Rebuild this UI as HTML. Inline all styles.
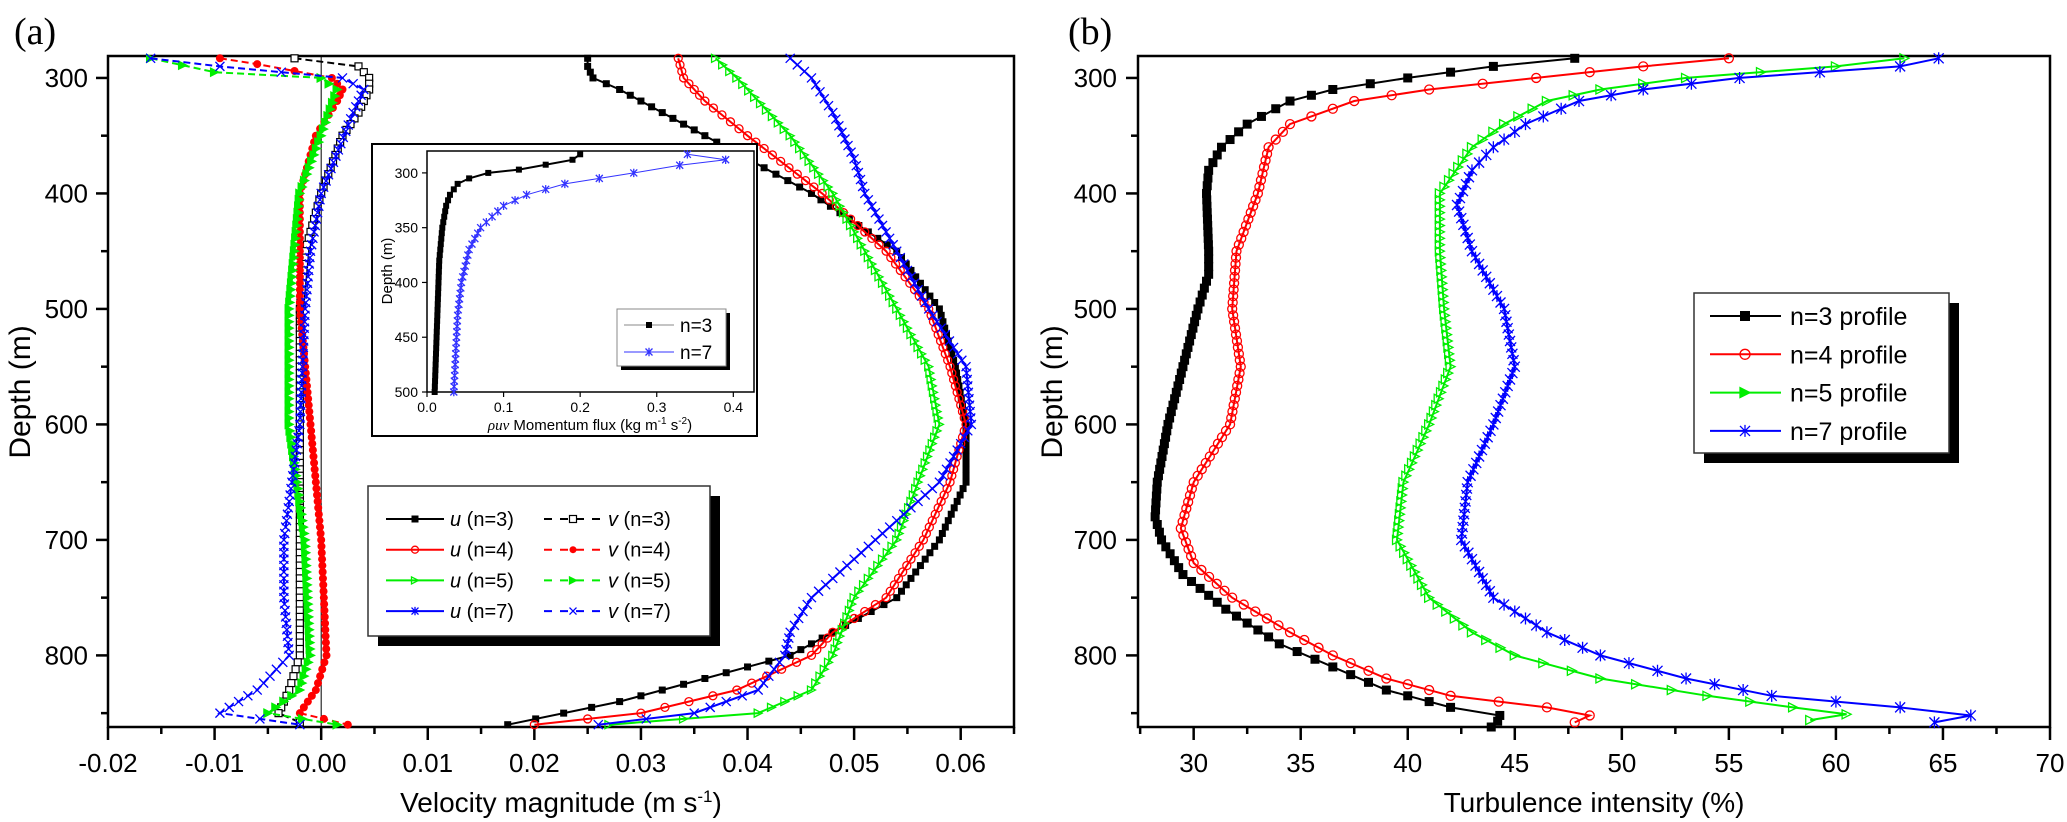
<!DOCTYPE html>
<html><head><meta charset="utf-8">
<style>
html,body{margin:0;padding:0;background:#fff;}
svg{display:block;font-family:"Liberation Sans",Arial,sans-serif;}
</style></head>
<body>
<svg id="fig" width="2067" height="822" viewBox="0 0 2067 822" xmlns="http://www.w3.org/2000/svg">
<text x="14" y="44" font-family="Liberation Serif,serif" font-size="38">(a)</text>
<text x="1068" y="44" font-family="Liberation Serif,serif" font-size="38">(b)</text>
</svg>
<script>
// ---------- data ----------
const depthTicks=[300,400,500,600,700,800];
const velTicks=[-0.02,-0.01,0.00,0.01,0.02,0.03,0.04,0.05,0.06];
const velTickLabels=["-0.02","-0.01","0.00","0.01","0.02","0.03","0.04","0.05","0.06"];
const tiTicks=[30,35,40,45,50,55,60,65,70];
const insetDepthTicks=[300,350,400,450,500];
const insetXTicks=[0,0.1,0.2,0.3,0.4];
const insetXTickLabels=["0.0","0.1","0.2","0.3","0.4"];

const u3D=[283,290,300,310,330,350,400,450,500,550,600,650,700,750,780,800,820,840,860];
const u3V=[0.025,0.025,0.0255,0.028,0.032,0.036,0.046,0.054,0.058,0.0595,0.0605,0.0605,0.058,0.054,0.048,0.044,0.036,0.028,0.0175];
const u4D=[283,300,320,350,400,450,500,550,600,650,700,750,780,800,830,850,860];
const u4V=[0.0335,0.034,0.036,0.040,0.047,0.053,0.057,0.059,0.0605,0.059,0.0565,0.053,0.048,0.046,0.039,0.030,0.020];
const u5D=[283,300,350,400,450,500,550,600,650,700,750,800,830,850,860];
const u5V=[0.037,0.039,0.044,0.048,0.051,0.054,0.057,0.058,0.056,0.054,0.050,0.048,0.046,0.041,0.027];
const u7D=[283,300,330,370,400,450,500,550,600,650,700,750,780,800,830,850,860];
const u7V=[0.044,0.046,0.048,0.050,0.051,0.054,0.057,0.0605,0.061,0.058,0.052,0.046,0.044,0.0435,0.041,0.035,0.026];
const v3D=[283,290,300,310,330,350,400,450,500,600,700,800,830,850,858];
const v3V=[-0.0025,0.0035,0.0045,0.0045,0.0035,0.002,0.0,-0.0015,-0.002,-0.002,-0.002,-0.002,-0.003,-0.004,-0.002];
const v4D=[283,288,300,310,320,350,400,500,600,700,800,830,850,860];
const v4V=[-0.0095,-0.006,0.001,0.002,0.0015,-0.0005,-0.002,-0.002,-0.001,0.0,0.0005,-0.0005,-0.002,0.0025];
const v5D=[283,295,300,310,350,400,500,600,700,800,830,850,860];
const v5V=[-0.016,-0.010,0.0,0.0015,0.0,-0.002,-0.003,-0.003,-0.0015,-0.001,-0.002,-0.005,0.0015];
const v7D=[283,290,300,310,330,400,450,500,600,700,750,800,830,850,860];
const v7V=[-0.016,-0.0095,0.002,0.004,0.003,0.0,-0.001,-0.0015,-0.002,-0.0035,-0.0035,-0.003,-0.006,-0.0095,-0.002];

const t3D=[283,290,300,310,320,340,360,380,400,450,470,500,550,600,650,680,700,730,760,790,810,830,845,852,857,862];
const t3V=[47.8,44,40,36.5,34.5,32.5,31.3,30.7,30.6,30.7,30.7,30.2,29.5,28.8,28.3,28.2,28.5,29.5,31.5,34,36.5,39,42,44.3,44.2,43.9];
const t4D=[283,290,300,310,320,340,360,400,450,500,550,600,650,690,720,750,780,800,820,835,845,852,858];
const t4V=[55,51,46,41,37.5,34.5,33.5,33,32,31.8,32.2,31.7,30,29.4,30,31.8,34.5,36.5,39,42,46.5,48.5,47.8];
const t5D=[283,290,300,310,320,340,360,400,450,500,550,600,650,700,750,780,800,820,835,845,851,856];
const t5V=[63.2,60,53,49,46.5,44.5,43,41.5,41.5,41.7,42,41,39.8,39.5,41,43,45,49,54,58,60.5,58.8];
const t7D=[283,290,300,310,320,340,360,380,410,450,500,550,600,650,700,750,780,800,820,835,845,852,858];
const t7V=[64.8,63,55.5,51,48,45.5,44,43,42.3,43,44.5,45,44,42.8,42.5,44,46.5,49,53,57,63,66.3,64.6];

const f3D=[283,288,297,300,305,310,320,330,350,380,400,500];
const f3V=[0.2,0.19,0.12,0.08,0.055,0.04,0.03,0.025,0.02,0.016,0.015,0.01];
const f7D=[283,288,293,300,310,320,330,350,370,400,430,500];
const f7V=[0.34,0.39,0.33,0.27,0.18,0.13,0.1,0.07,0.055,0.045,0.04,0.035];

// ---------- helpers ----------
const NS="http://www.w3.org/2000/svg";
const svg=document.getElementById('fig');
function mk(tag,attrs,parent){const e=document.createElementNS(NS,tag);for(const k in attrs)e.setAttribute(k,attrs[k]);(parent||svg).appendChild(e);return e;}
function lin(d0,d1,r0,r1){return v=>r0+(v-d0)*(r1-r0)/(d1-d0);}

// axes geometry
const yA=lin(281,862,56,727);
const xA=lin(-0.02,0.065,108,1014);
const yB=lin(281,862,56,727);
const xB=lin(27.4,70,1138,2050);
const yI=lin(280,500,151,392);
const xI=lin(0,0.427,427,754);

function marker(g,type,x,y,s,color){
  let e;
  if(type==='sqF'){e=mk('rect',{x:x-s/2,y:y-s/2,width:s,height:s,fill:color},g);}
  else if(type==='sqO'){e=mk('rect',{x:x-s/2,y:y-s/2,width:s,height:s,fill:'#fff',stroke:color,'stroke-width':1.2},g);}
  else if(type==='ciO'){e=mk('circle',{cx:x,cy:y,r:s/2,fill:'none',stroke:color,'stroke-width':1.3},g);}
  else if(type==='ciF'){e=mk('circle',{cx:x,cy:y,r:s/2,fill:color},g);}
  else if(type==='trO'||type==='trF'){e=mk('polygon',{points:`${x-s/2},${y-s/2} ${x+s/2},${y} ${x-s/2},${y+s/2}`,fill:type==='trF'?color:'none',stroke:color,'stroke-width':1.3},g);}
  else if(type==='x'){const h=s/2;e=mk('path',{d:`M${x-h},${y-h}L${x+h},${y+h}M${x-h},${y+h}L${x+h},${y-h}`,stroke:color,'stroke-width':1.3,fill:'none'},g);}
  else if(type==='ast'){const h=s/2;e=mk('path',{d:`M${x-h},${y-h}L${x+h},${y+h}M${x-h},${y+h}L${x+h},${y-h}M${x},${y-h*1.2}L${x},${y+h*1.2}`,stroke:color,'stroke-width':1.3,fill:'none'},g);}
  
  
}
function series(name,D,V,xs,ys,color,dash,mtype,msize,step,width){
  const g=mk('g',{});
  
  
  const pts=D.map((d,i)=>xs(V[i]).toFixed(1)+','+ys(d).toFixed(1)).join(' ');
  const pl=mk('polyline',{points:pts,fill:'none',stroke:color,'stroke-width':width||2,'stroke-dasharray':dash||'none'},g);
  
  
  // markers along depth
  for(let i=0;i<D.length-1;i++){
    const n=Math.max(1,Math.round((D[i+1]-D[i])/step));
    for(let k=0;k<n;k++){
      const t=k/n;const d=D[i]+t*(D[i+1]-D[i]);const v=V[i]+t*(V[i+1]-V[i]);
      marker(g,mtype,xs(v),ys(d),msize,color);
    }
  }
  marker(g,mtype,xs(V[V.length-1]),ys(D[D.length-1]),msize,color);
}
function txt(x,y,s,size,anchor,name,extra){
  const t=mk('text',Object.assign({x:x,y:y,'font-size':size,'text-anchor':anchor||'middle'},extra||{}));
  t.textContent=s;
  
  
  return t;
}

// ---------- panel a ----------
const ga=mk('g',{});


const frameA=mk('rect',{x:108,y:56,width:906,height:671,fill:'none',stroke:'#000','stroke-width':2.5},ga);


const zl=mk('line',{x1:xA(0),x2:xA(0),y1:56,y2:727,stroke:'#000','stroke-width':1},ga);


depthTicks.forEach(d=>{
  const t=mk('line',{x1:96,x2:108,y1:yA(d),y2:yA(d),stroke:'#000','stroke-width':2.5},ga);
  
  
  txt(88,yA(d)+9,String(d),26,'end','y-tick-label');
});
for(let d=350;d<=850;d+=100){
  const t=mk('line',{x1:101,x2:108,y1:yA(d),y2:yA(d),stroke:'#000','stroke-width':2.5},ga);
  
  
}
velTicks.forEach((v,i)=>{
  const t=mk('line',{x1:xA(v),x2:xA(v),y1:727,y2:740,stroke:'#000','stroke-width':2.5},ga);
  
  
  txt(xA(v),772,velTickLabels[i],26,'middle','x-tick-label');
  const m=mk('line',{x1:xA(v+0.005),x2:xA(v+0.005),y1:727,y2:734,stroke:'#000','stroke-width':2.5},ga);
  
  
});
const ya=txt(0,0,'Depth (m)',30,'middle','y-axis-title',{transform:'translate(30,392) rotate(-90)'});
const xat=txt(561,812,'Velocity magnitude (m s',28,'middle','x-axis-title');
const sup=mk('tspan',{dy:-10,'font-size':17},xat);sup.textContent='-1';
const sup2=mk('tspan',{dy:10},xat);sup2.textContent=')';

series('u-n3',u3D,u3V,xA,yA,'#000',null,'sqF',7,5.5);
series('u-n4',u4D,u4V,xA,yA,'#f00',null,'ciO',8,5.5);
series('u-n5',u5D,u5V,xA,yA,'#0e0',null,'trO',8,5.5);
series('u-n7',u7D,u7V,xA,yA,'#00f',null,'x',9,5.5);
series('v-n3',v3D,v3V,xA,yA,'#000','7,4','sqO',7,5.5);
series('v-n4',v4D,v4V,xA,yA,'#f00','7,4','ciF',8,5.5);
series('v-n5',v5D,v5V,xA,yA,'#0e0','7,4','trF',8,5.5);
series('v-n7',v7D,v7V,xA,yA,'#00f','7,4','x',9,5.5);

// legend a
const la=mk('g',{});


mk('rect',{x:378,y:496,width:342,height:150,fill:'#000'},la);
mk('rect',{x:368,y:486,width:342,height:150,fill:'#fff',stroke:'#333','stroke-width':1.5},la);
const legA=[['u','n=3','#000','sqF','v','sqO'],['u','n=4','#f00','ciO','v','ciF'],['u','n=5','#0e0','trO','v','trF'],['u','n=7','#00f','ast','v','x']];
legA.forEach((r,i)=>{
  const y=519+i*30.7;
  const e1=mk('g',{},la);
  
  
  mk('line',{x1:386,x2:444,y1:y,y2:y,stroke:r[2],'stroke-width':2},e1);
  marker(e1,r[3],415,y,7,r[2]);
  const t=txt(450,y+7,'',20,'start','legend-label');
  const it=mk('tspan',{'font-style':'italic'},t);it.textContent='u';
  const rest=mk('tspan',{},t);rest.textContent=' ('+r[1]+')';
  e1.appendChild(t);
  const e2=mk('g',{},la);
  
  
  mk('line',{x1:544,x2:602,y1:y,y2:y,stroke:r[2],'stroke-width':2,'stroke-dasharray':'8,8'},e2);
  marker(e2,r[5],573,y,7,r[2]);
  const t2=txt(608,y+7,'',20,'start','legend-label');
  const it2=mk('tspan',{'font-style':'italic'},t2);it2.textContent='v';
  const rest2=mk('tspan',{},t2);rest2.textContent=' ('+r[1]+')';
  e2.appendChild(t2);
});

// inset
const gi=mk('g',{});


mk('rect',{x:372,y:144,width:385,height:292,fill:'#fff',stroke:'#000','stroke-width':2},gi);
mk('rect',{x:427,y:151,width:327,height:241,fill:'none',stroke:'#000','stroke-width':1.5},gi);
insetDepthTicks.forEach(d=>{
  mk('line',{x1:422,x2:427,y1:yI(d),y2:yI(d),stroke:'#000','stroke-width':1.2},gi);
  gi.appendChild(txt(418,yI(d)+5,String(d),14,'end','inset-y-tick-label'));
});
insetXTicks.forEach((v,i)=>{
  mk('line',{x1:xI(v),x2:xI(v),y1:392,y2:397,stroke:'#000','stroke-width':1.2},gi);
  gi.appendChild(txt(xI(v),412,insetXTickLabels[i],14,'middle','inset-x-tick-label'));
});
gi.appendChild(txt(0,0,'Depth (m)',15,'middle','inset-y-axis-title',{transform:'translate(392,271) rotate(-90)'}));
const ixt=txt(590,430,'',15,'middle','inset-x-axis-title');
const r1=mk('tspan',{'font-style':'italic','font-family':'Liberation Serif,serif'},ixt);r1.textContent='ρuv';
const r2=mk('tspan',{},ixt);r2.textContent=' Momentum flux (kg m';
const r3=mk('tspan',{dy:-6,'font-size':10},ixt);r3.textContent='-1';
const r4=mk('tspan',{dy:6},ixt);r4.textContent=' s';
const r5=mk('tspan',{dy:-6,'font-size':10},ixt);r5.textContent='-2';
const r6=mk('tspan',{dy:6},ixt);r6.textContent=')';
gi.appendChild(ixt);
series('inset-n3',f3D,f3V,xI,yI,'#000',null,'sqF',6,5);
series('inset-n7',f7D,f7V,xI,yI,'#33f',null,'ast',7,5,1);
const li=mk('g',{});


mk('rect',{x:621,y:313,width:109,height:57,fill:'#000'},li);
mk('rect',{x:617,y:309,width:109,height:57,fill:'#fff',stroke:'#888','stroke-width':1},li);
mk('line',{x1:624,x2:674,y1:325,y2:325,stroke:'#888','stroke-width':1},li);
marker(li,'sqF',649,325,6,'#000');
li.appendChild(txt(680,332,'n=3',19,'start','inset-legend-label'));
mk('line',{x1:624,x2:674,y1:352,y2:352,stroke:'#33f','stroke-width':1},li);
marker(li,'ast',649,352,7,'#33f');
li.appendChild(txt(680,359,'n=7',19,'start','inset-legend-label'));

// ---------- panel b ----------
const gb=mk('g',{});


mk('rect',{x:1138,y:56,width:912,height:671,fill:'none',stroke:'#000','stroke-width':2.5},gb);
depthTicks.forEach(d=>{
  const t=mk('line',{x1:1126,x2:1138,y1:yB(d),y2:yB(d),stroke:'#000','stroke-width':2.5},gb);
  
  
  txt(1117,yB(d)+9,String(d),26,'end','y-tick-label');
});
for(let d=350;d<=850;d+=100){
  const t=mk('line',{x1:1131,x2:1138,y1:yB(d),y2:yB(d),stroke:'#000','stroke-width':2.5},gb);
  
  
}
tiTicks.forEach(v=>{
  const t=mk('line',{x1:xB(v),x2:xB(v),y1:727,y2:740,stroke:'#000','stroke-width':2.5},gb);
  
  
  txt(xB(v),772,String(v),26,'middle','x-tick-label');
  if(v>27.5&&v-2.5>27.4){
    const m=mk('line',{x1:xB(v-2.5),x2:xB(v-2.5),y1:727,y2:734,stroke:'#000','stroke-width':2.5},gb);
    
    
  }
});
txt(0,0,'Depth (m)',30,'middle','y-axis-title',{transform:'translate(1062,392) rotate(-90)'});
txt(1594,812,'Turbulence intensity (%)',28,'middle','x-axis-title');

series('ti-n3',t3D,t3V,xB,yB,'#000',null,'sqF',9,5.8);
series('ti-n4',t4D,t4V,xB,yB,'#f00',null,'ciO',9,5.8);
series('ti-n5',t5D,t5V,xB,yB,'#0e0',null,'trO',9,5.8);
series('ti-n7',t7D,t7V,xB,yB,'#00f',null,'ast',10,5.8);

const lb=mk('g',{});


mk('rect',{x:1704,y:303,width:255,height:160,fill:'#000'},lb);
mk('rect',{x:1694,y:293,width:255,height:160,fill:'#fff',stroke:'#333','stroke-width':1.5},lb);
const legB=[['n=3 profile','#000','sqF'],['n=4 profile','#f00','ciO'],['n=5 profile','#0e0','trF'],['n=7 profile','#00f','ast']];
legB.forEach((r,i)=>{
  const y=316+i*38.3;
  const e=mk('g',{},lb);
  
  
  mk('line',{x1:1710,x2:1781,y1:y,y2:y,stroke:r[1],'stroke-width':2},e);
  marker(e,r[2],1745,y,10,r[1]);
  e.appendChild(txt(1790,y+9,r[0],25,'start','legend-label'));
});
</script>
</body></html>
